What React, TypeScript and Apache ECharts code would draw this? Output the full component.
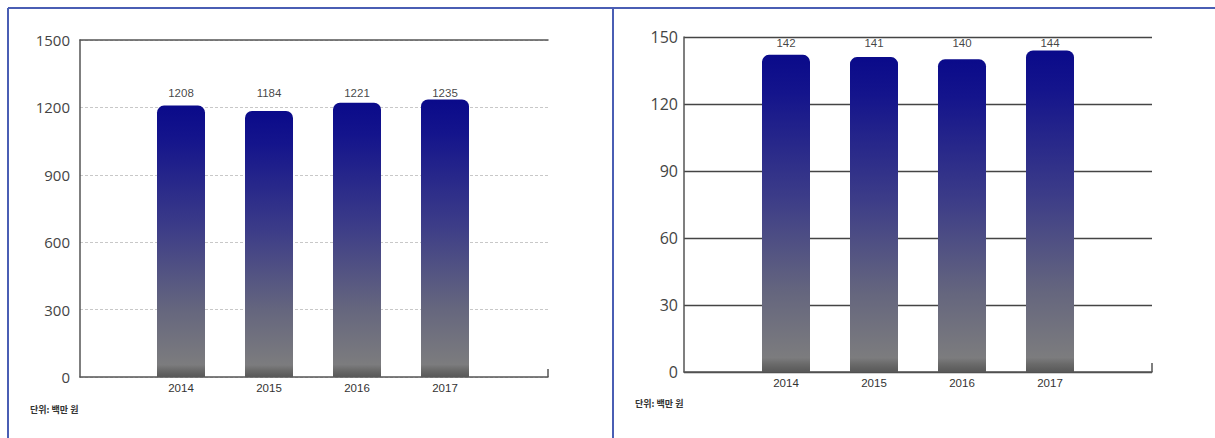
import React, { useEffect, useRef } from "react";
import * as echarts from "echarts";

const years = ["2014", "2015", "2016", "2017"];
const leftValues = [1208, 1184, 1221, 1235];
const rightValues = [142, 141, 140, 144];
const leftLabelLevel = [1266, 1266, 1266, 1266];
const rightLabelLevel = [147.5, 147.5, 147.5, 147.5];
const unitText = "단위: 백만 원";

const barGradient = () =>
  new echarts.graphic.LinearGradient(0, 0, 0, 1, [
    { offset: 0, color: "#0a0a8a" },
    { offset: 0.12, color: "#14148c" },
    { offset: 0.45, color: "#3c3c88" },
    { offset: 0.75, color: "#65667e" },
    { offset: 0.955, color: "#7c7c7e" },
    { offset: 0.975, color: "#6a6a6a" },
    { offset: 1, color: "#585858" },
  ]);

export default function App() {
  const ref = useRef<HTMLDivElement>(null);
  useEffect(() => {
    if (!ref.current) return;
    const chart = echarts.init(ref.current, null, { renderer: "svg" });
    const axisTextStyle = { fontFamily: "Open Sans", color: "#444", formatter: (v: number) => String(v) };
    const xLabel = { margin: 5, fontSize: 11.5, color: "#333", fontFamily: "Liberation Sans" };
    const valLabel = { show: true, position: "inside", fontSize: 11.5, color: "#111", fontFamily: "Liberation Sans" };
    const option: any = {
      animation: false,
      backgroundColor: "#fff",
      grid: [
        { left: 80, top: 40, width: 468, height: 337 },
        { left: 137, top: 40, width: 352, height: 337 },
        { left: 684, top: 37, width: 468, height: 335 },
        { left: 742, top: 37, width: 352, height: 335 },
      ],
      xAxis: [
        { gridIndex: 0, type: "value", min: 0, max: 1, position: "bottom",
          axisLine: { show: true, lineStyle: { color: "#555", width: 1.5 } },
          axisTick: { show: false }, axisLabel: { show: false }, splitLine: { show: false } },
        { gridIndex: 0, type: "value", min: 0, max: 1, position: "top",
          axisLine: { show: true, lineStyle: { color: "#555", width: 1.5 } },
          axisTick: { show: false }, axisLabel: { show: false }, splitLine: { show: false } },
        { gridIndex: 1, type: "category", data: years, boundaryGap: true,
          axisLine: { show: false }, axisTick: { show: false }, axisLabel: xLabel },
        { gridIndex: 2, type: "value", min: 0, max: 1, position: "bottom",
          axisLine: { show: true, lineStyle: { color: "#555", width: 1.5 } },
          axisTick: { show: false }, axisLabel: { show: false }, splitLine: { show: false } },
        { gridIndex: 3, type: "category", data: years, boundaryGap: true,
          axisLine: { show: false }, axisTick: { show: false }, axisLabel: xLabel },
      ],
      yAxis: [
        { gridIndex: 0, type: "value", min: 0, max: 1500, interval: 300,
          axisLine: { show: true, lineStyle: { color: "#555", width: 1.5 } },
          axisTick: { show: false },
          axisLabel: { ...axisTextStyle, fontSize: 15, margin: 10 },
          splitLine: { show: true, lineStyle: { color: "#c8c8c8", type: [3, 2], width: 1 } } },
        { gridIndex: 1, type: "value", min: 0, max: 1500, interval: 300, show: false },
        { gridIndex: 2, type: "value", min: 0, max: 150, interval: 30,
          axisLine: { show: true, lineStyle: { color: "#555", width: 1.5 } },
          axisTick: { show: false },
          axisLabel: { ...axisTextStyle, fontSize: 16, margin: 6 },
          splitLine: { show: true, lineStyle: { color: "#444", width: 1.3 } } },
        { gridIndex: 3, type: "value", min: 0, max: 150, interval: 30, show: false },
      ],
      series: [
        { type: "bar", xAxisIndex: 2, yAxisIndex: 1, data: leftValues, barWidth: 48,
          itemStyle: { color: barGradient(), borderRadius: [7, 7, 0, 0] } },
        { type: "scatter", xAxisIndex: 2, yAxisIndex: 1, data: leftLabelLevel, symbolSize: 0,
          label: { ...valLabel, formatter: (p: any) => String(leftValues[p.dataIndex]) } },
        { type: "bar", xAxisIndex: 4, yAxisIndex: 3, data: rightValues, barWidth: 48,
          itemStyle: { color: barGradient(), borderRadius: [7, 7, 0, 0] } },
        { type: "scatter", xAxisIndex: 4, yAxisIndex: 3, data: rightLabelLevel, symbolSize: 0,
          label: { ...valLabel, formatter: (p: any) => String(rightValues[p.dataIndex]) } },
      ],
      graphic: [
        { type: "line", shape: { x1: 8, y1: 8, x2: 1215, y2: 8 }, style: { stroke: "#4a5eb4", lineWidth: 2 } },
        { type: "line", shape: { x1: 8, y1: 8, x2: 8, y2: 438 }, style: { stroke: "#4a5eb4", lineWidth: 2 } },
        { type: "line", shape: { x1: 613, y1: 8, x2: 613, y2: 438 }, style: { stroke: "#4a5eb4", lineWidth: 2 } },
        { type: "line", shape: { x1: 548, y1: 369, x2: 548, y2: 377 }, style: { stroke: "#555", lineWidth: 1.5 } },
        { type: "line", shape: { x1: 1152, y1: 363, x2: 1152, y2: 372 }, style: { stroke: "#555", lineWidth: 1.5 } },
        { type: "text", x: 30, y: 405, style: { text: unitText, fontSize: 9, fill: "#333",
          fontFamily: "Noto Sans CJK KR", fontWeight: "bold" } },
        { type: "text", x: 635, y: 399, style: { text: unitText, fontSize: 9, fill: "#333",
          fontFamily: "Noto Sans CJK KR", fontWeight: "bold" } },
      ],
    };
    chart.setOption(option);
    return () => chart.dispose();
  }, []);
  return (
    <div
      ref={ref}
      style={{ position: "fixed", left: 0, top: 0, width: 1215, height: 438, background: "#fff" }}
    />
  );
}
